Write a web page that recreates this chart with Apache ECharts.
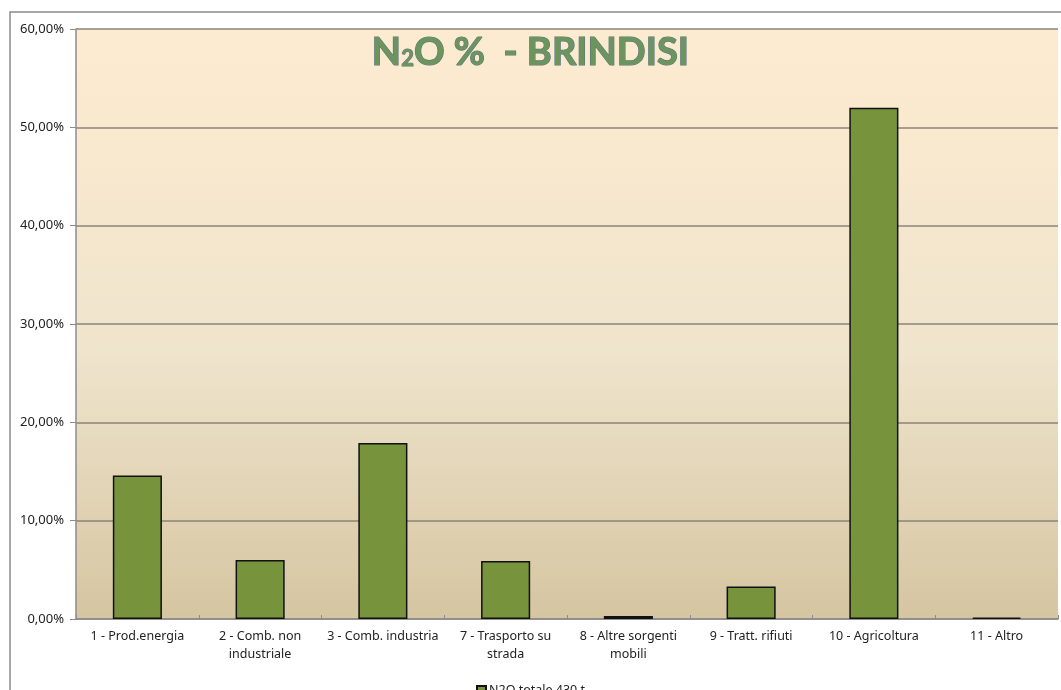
<!DOCTYPE html>
<html>
<head>
<meta charset="utf-8">
<script src="https://cdn.jsdelivr.net/npm/echarts@6/dist/echarts.min.js"></script>
<style>
  html, body { margin: 0; padding: 0; background: #fff; }
  #main { width: 1061px; height: 690px; }
</style>
</head>
<body>
<div id="main"></div>
<script>
// categorie (settori SNAP)
var categories = [
  '1 - Prod.energia',
  '2 - Comb. non\nindustriale',
  '3 - Comb. industria',
  '7 - Trasporto su\nstrada',
  '8 - Altre sorgenti\nmobili',
  '9 - Tratt. rifiuti',
  '10 - Agricoltura',
  '11 - Altro'
];
// quota % di N2O per settore
var n2oShare = [14.6, 6.0, 17.9, 5.9, 0.3, 3.3, 52.0, 0.15];
var seriesName = 'N2O totale 430 t';

var chart = echarts.init(document.getElementById('main'));
chart.setOption({
  backgroundColor: '#fff',
  textStyle: { fontFamily: 'Noto Sans' },
  title: {
    text: '{n|N}{s|2}{n|O %  - BRINDISI}',
    left: 'center',
    top: 29,
    textStyle: {
      rich: {
        n: { fontFamily: 'Lato', fontWeight: 'bold', fontSize: 38, color: '#6b955c',
             textBorderColor: '#5d7585', textBorderWidth: 1.2 },
        s: { fontFamily: 'Lato', fontWeight: 'bold', fontSize: 22, color: '#6b955c',
             textBorderColor: '#5d7585', textBorderWidth: 1, padding: [12, 0, 0, 0] }
      }
    }
  },
  graphic: [{
    type: 'rect',
    shape: { x: 10, y: 12, width: 1100, height: 720 },
    style: { fill: null, stroke: '#8a8a8a', lineWidth: 1.5 },
    silent: true,
    z: -1
  }],
  legend: {
    data: [seriesName],
    left: 'center',
    top: 679,
    icon: 'rect',
    itemWidth: 9,
    itemHeight: 9,
    itemGap: 4,
    textStyle: { fontSize: 12.5, color: '#222', padding: [0, 0, 0, -2] }
  },
  grid: {
    left: 76, right: 3, top: 29, bottom: 71,
    show: true,
    borderWidth: 0,
    backgroundColor: new echarts.graphic.LinearGradient(0, 0, 0, 1, [
      { offset: 0, color: '#fdebd0' },
      { offset: 0.55, color: '#efe4cc' },
      { offset: 1, color: '#d5c5a1' }
    ])
  },
  xAxis: {
    type: 'category',
    data: categories,
    axisLine: { lineStyle: { color: '#8c8c8c', width: 1.5 } },
    axisTick: { show: true, inside: true, length: 4, lineStyle: { color: '#8c8c8c' } },
    axisLabel: { interval: 0, fontSize: 12.5, color: '#222', margin: 8, lineHeight: 18 }
  },
  yAxis: {
    type: 'value',
    min: 0, max: 60, interval: 10,
    axisLine: { show: true, lineStyle: { color: '#8c8c8c', width: 1.5 } },
    axisTick: { show: true, length: 6, lineStyle: { color: '#8c8c8c' } },
    axisLabel: {
      fontSize: 13, color: '#222', margin: 12,
      formatter: function (v) { return v.toFixed(2).replace('.', ',') + '%'; }
    },
    splitLine: { lineStyle: { color: '#8a8478', width: 1.5 } }
  },
  series: [{
    name: seriesName,
    type: 'bar',
    data: n2oShare,
    barWidth: '40%',
    itemStyle: { color: '#77933c', borderColor: '#111', borderWidth: 1.5 }
  }]
});
</script>
</body>
</html>
